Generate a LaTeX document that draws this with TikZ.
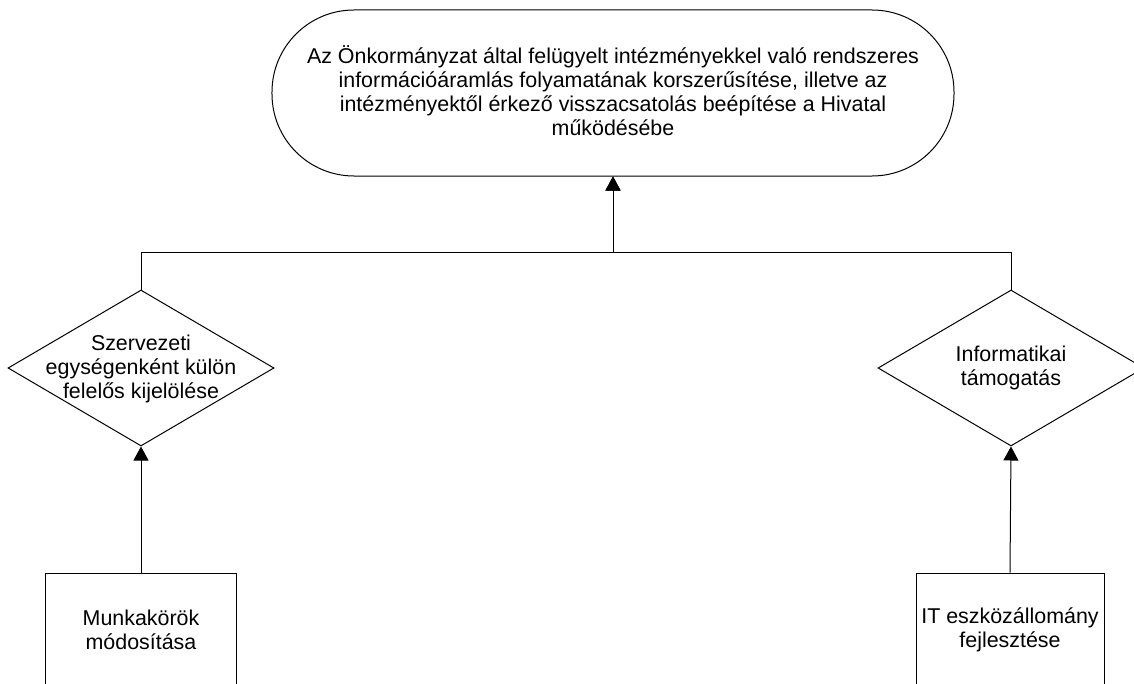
\documentclass[tikz,border=0pt]{standalone}
\usepackage{fontspec}
\setmainfont{Liberation Sans}
\usetikzlibrary{shapes.geometric,arrows.meta}
\begin{document}
\begin{tikzpicture}[x=1bp,y=-1bp,
  every node/.style={font=\fontsize{21.5}{24}\selectfont, align=center, line width=1bp},
  goal/.style={draw, rounded corners=82bp, minimum width=682bp, minimum height=166bp, inner sep=0pt},
  decision/.style={draw, diamond, minimum width=266bp, minimum height=156bp, inner sep=0pt},
  label/.style={inner sep=0pt},
  task/.style={draw, rectangle, minimum height=115bp, inner sep=0pt},
  link/.style={line width=1bp, -{Triangle[length=14bp,width=15bp]}}]
\useasboundingbox (0,0) rectangle (1134,684);
\clip (0,0) rectangle (1134,684);

% goal
\node[goal] (goal) at (613,93) {};
\node[label] (goaltext) at (613,91)
  {Az Önkormányzat által felügyelt intézményekkel való rendszeres\\
   információáramlás folyamatának korszerűsítése, illetve az\\
   intézményektől érkező visszacsatolás beépítése a Hivatal\\
   működésébe};

% decisions
\node[decision] (left) at (141,368) {};
\node[label] (lefttext) at (141,369) {Szervezeti\\egységenként külön\\felelős kijelölése};
\node[decision] (right) at (1011,368) {};
\node[label] (righttext) at (1011,368) {Informatikai\\támogatás};

% tasks
\node[task, minimum width=190bp] (lefttask) at (141,630.5) {};
\node[label] (lefttasktext) at (141,630) {Munkakörök\\módosítása};
\node[task, minimum width=188bp] (righttask) at (1010,630.5) {};
\node[label] (righttasktext) at (1010,630) {IT eszközállomány\\fejlesztése};

% connectors
\draw[link] (left.north) -- ++(0,-37) -| (goal.south);
\draw[link] (right.north) -- ++(0,-37) -| (goal.south);
\draw[link] (lefttask.north) -- (left.south);
\draw[link] (righttask.north) -- (right.south);
\end{tikzpicture}
\end{document}
